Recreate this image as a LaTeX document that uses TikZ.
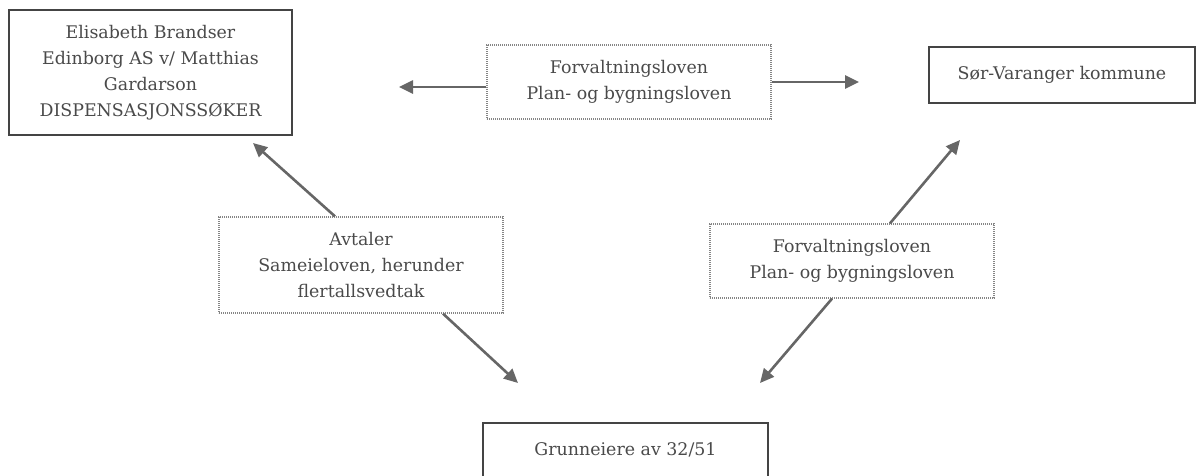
\documentclass[tikz,border=0pt]{standalone}
\usepackage{fontspec}
\setmainfont{DejaVu Serif}
\usetikzlibrary{arrows.meta}
\definecolor{txt}{HTML}{4A4A4A}
\definecolor{edge}{HTML}{444444}
\definecolor{arr}{HTML}{666666}
\begin{document}
\begin{tikzpicture}[x=1pt,y=-1pt,
  solidbox/.style={draw=edge,line width=1.8pt,fill=white,text=txt,align=center,inner sep=0pt,font=\fontsize{17.4}{26}\selectfont},
  lawbox/.style={draw=arr!80,line width=1.3pt,dash pattern=on 1.2pt off 0.8pt,text=txt,align=center,inner sep=0pt,font=\fontsize{17.4}{26}\selectfont},
  conn/.style={draw=arr,line width=2.6pt,-{Triangle[length=14pt,width=13pt]}}]
\useasboundingbox (0,0) rectangle (1197,475);
\node[solidbox,minimum width=283pt,minimum height=125pt] (A) at (150.5,72.5) {Elisabeth Brandser\\Edinborg AS v/ Matthias\\Gardarson\\DISPENSASJONSSØKER};
\node[lawbox,minimum width=284pt,minimum height=74pt] (L1) at (629,82) {Forvaltningsloven\\Plan- og bygningsloven};
\node[solidbox,minimum width=266pt,minimum height=56pt] (S) at (1062,75) {Sør-Varanger kommune};
\node[lawbox,minimum width=284pt,minimum height=74pt] (L2) at (852,261) {Forvaltningsloven\\Plan- og bygningsloven};
\node[lawbox,minimum width=284pt,minimum height=96pt] (Av) at (361,265) {Avtaler\\Sameieloven, herunder\\flertallsvedtak};
\node[solidbox,minimum width=285pt,minimum height=54pt] (G) at (625.5,450) {Grunneiere av 32/51};
\coordinate (t1) at (399,87);
\coordinate (t2) at (859,82);
\coordinate (tA) at (253,143);
\coordinate (tS) at (960,140);
\coordinate (tG1) at (518,383);
\coordinate (tG2) at (760,383);
\draw[conn] (L1.west |- t1) -- (t1);
\draw[conn] (L1.east |- t2) -- (t2);
\draw[conn] ([xshift=-26pt]Av.north) -- (tA);
\draw[conn] ([xshift=82pt]Av.south) -- (tG1);
\draw[conn] ([xshift=38pt]L2.north) -- (tS);
\draw[conn] ([xshift=-20pt]L2.south) -- (tG2);
\end{tikzpicture}
\end{document}
